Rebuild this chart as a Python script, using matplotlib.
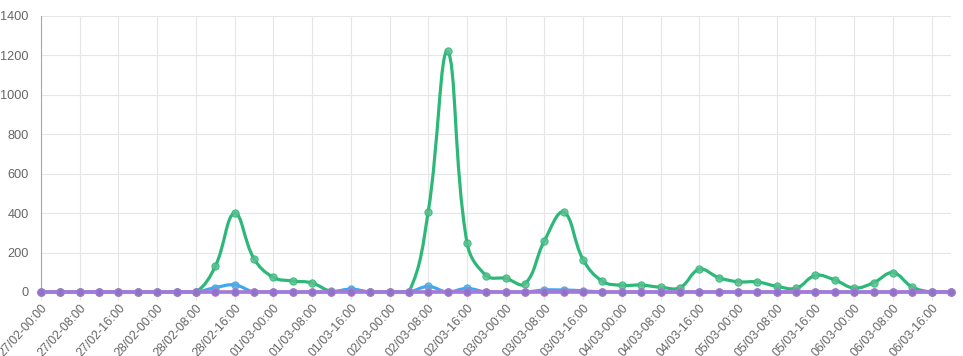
"""
Hourly counts per series, 27/02 - 06/03, drawn as smoothed line chart.
"""

import matplotlib
matplotlib.use('Agg')
import matplotlib.pyplot as plt
from matplotlib.path import Path
from matplotlib.patches import PathPatch
import numpy as np
import pandas as pd

plt.rcParams['font.family'] = ['Liberation Sans', 'DejaVu Sans']

# 4-hourly buckets
times = pd.date_range('2019-02-27 00:00', periods=48, freq='4h')
labels = [t.strftime('%d/%m-%H:%M') for t in times]

green = [0, 0, 0, 0, 0, 0, 0, 0,
         0, 130, 400, 169, 74, 56, 46, 3,
         12, 0, 0, 0, 408, 1220, 251, 83,
         69, 42, 260, 405, 164, 54, 34, 35,
         24, 22, 115, 73, 52, 51, 29, 19,
         84, 61, 20, 47, 98, 25, 0, 0]
blue = [0, 0, 0, 0, 0, 0, 0, 0,
        0, 22, 36, 0, 0, 0, 0, 0,
        14, 0, 0, 0, 28, 0, 18, 0,
        0, 0, 10, 10, 6, 0, 0, 0,
        0, 0, 0, 0, 0, 0, 0, 0,
        0, 0, 0, 0, 0, 0, 0, 0]
red = [0] * 48
purple = [0] * 48

series = [
    (green, '#2db87a', '#5bbf8e', 2),
    (blue, '#3da9f2', '#5aa9de', 3),
    (red, '#f26a86', '#c9708a', 4),
    (purple, '#9c7ce4', '#8c72c4', 5),
]

Y_MAX = 1400
PX_X = 19.36   # pixels per category step
PX_Y = 0.197   # pixels per unit


def smooth_path(x, y, tension=0.4):
    """Chart.js style spline: bezier control points from neighbours."""
    n = len(x)
    px = np.asarray(x, float) * PX_X
    py = np.asarray(y, float) * PX_Y
    cp_prev = np.zeros((n, 2))
    cp_next = np.zeros((n, 2))
    for i in range(n):
        a = max(i - 1, 0)
        c = min(i + 1, n - 1)
        d01 = np.hypot(px[i] - px[a], py[i] - py[a])
        d12 = np.hypot(px[c] - px[i], py[c] - py[i])
        tot = d01 + d12
        s01 = d01 / tot if tot else 0
        s12 = d12 / tot if tot else 0
        fa, fb = tension * s01, tension * s12
        cp_prev[i] = (px[i] - fa * (px[c] - px[a]), py[i] - fa * (py[c] - py[a]))
        cp_next[i] = (px[i] + fb * (px[c] - px[a]), py[i] + fb * (py[c] - py[a]))
    # back to data units and cap into chart area
    for cp in (cp_prev, cp_next):
        cp[:, 0] /= PX_X
        cp[:, 1] /= PX_Y
        cp[:, 1] = np.clip(cp[:, 1], 0, Y_MAX)
    verts = [(x[0], y[0])]
    codes = [Path.MOVETO]
    for i in range(n - 1):
        verts += [tuple(cp_next[i]), tuple(cp_prev[i + 1]), (x[i + 1], y[i + 1])]
        codes += [Path.CURVE4] * 3
    return Path(verts, codes)


fig = plt.figure(figsize=(9.63, 3.56), dpi=100)
ax = fig.add_axes([41 / 963, 64 / 356, 910 / 963, 276 / 356])

xs = np.arange(len(labels))
for values, line_c, pt_c, z in series:
    ax.add_patch(PathPatch(smooth_path(xs, values), fill=False, edgecolor=line_c,
                           linewidth=2.3, zorder=z, capstyle='round', joinstyle='round',
                           clip_on=False))
    ax.plot(xs, values, linestyle='none', marker='o', markersize=5.2,
            markerfacecolor=pt_c, markeredgecolor=line_c, markeredgewidth=0.8,
            alpha=0.85, zorder=z + 0.5, clip_on=False)

ax.set_xlim(0, len(labels) - 1)
ax.set_ylim(0, Y_MAX)
ax.set_yticks(np.arange(0, Y_MAX + 1, 200))
ax.set_xticks(xs[::2])
ax.set_xticklabels(labels[::2], rotation=48, ha='right', rotation_mode='anchor',
                   fontsize=8.9, color='#666666')
ax.tick_params(axis='x', length=6, color='#e6e6e6', pad=1)
ax.tick_params(axis='y', length=0, pad=9, labelsize=9.2, labelcolor='#666666')

ax.grid(True, color='#e6e6e6', linewidth=0.8)
ax.set_axisbelow(True)
for side in ('top', 'right'):
    ax.spines[side].set_visible(False)
ax.spines['left'].set_color('#a8a8a8')
ax.spines['bottom'].set_color('#e6e6e6')

fig.savefig('out.png', dpi=100)
